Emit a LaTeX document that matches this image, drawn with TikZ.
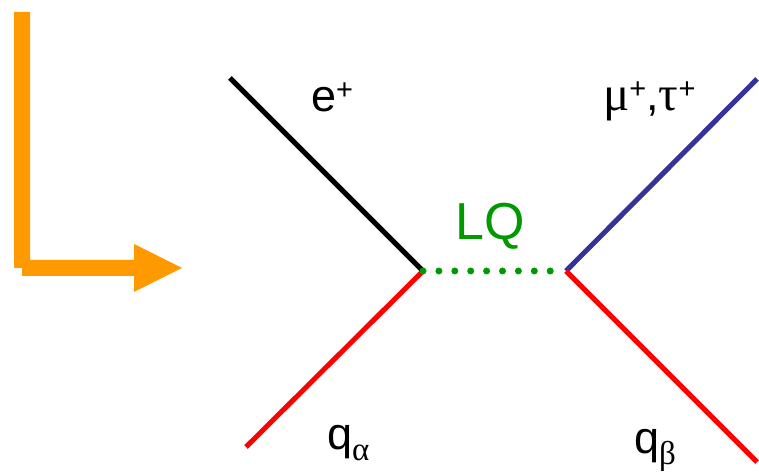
\documentclass[tikz,border=0pt]{standalone}
\usepackage{fontspec}
\setmainfont{Liberation Sans}
\newfontfamily\grk{Liberation Serif}
\definecolor{arroworange}{HTML}{FF9900}
\definecolor{lqgreen}{HTML}{009900}
\definecolor{mublue}{HTML}{333399}
\definecolor{qred}{HTML}{FF0000}
\newcommand\upsc[1]{\raisebox{12.5pt}{\fontsize{29}{30}\selectfont #1}}
\newcommand\dnsc[1]{\raisebox{-11pt}{\fontsize{33}{34}\selectfont #1}}
\newcommand\bgrk[1]{{\grk\fontsize{49}{54}\selectfont #1}}
\tikzset{
  leg/.style={line width=5pt},
  lbl/.style={anchor=base west, inner sep=0pt, font=\fontsize{45}{54}\selectfont},
  lqline/.style={lqgreen, line width=7pt, line cap=round, dash pattern=on 0pt off 15.9pt},
  bigarrow/.style={fill=arroworange, draw=none}
}
\begin{document}
\begin{tikzpicture}[x=1pt,y=1pt]
\useasboundingbox (0,0) rectangle (759,473);
% orange arrow
\fill[bigarrow] (14,461) -- (30,461) -- (30,213) -- (134,213) -- (134,229) -- (182,205) -- (134,181) -- (134,197) -- (22,197) -- (22,205) -- (14,205) -- cycle;
% vertices and ends
\coordinate (v1) at (423,202);
\coordinate (v2) at (566,202);
\coordinate (eplus) at (230,395);
\coordinate (mutau) at (757,394);
\coordinate (qa) at (246,26);
\coordinate (qb) at (757,11);
\draw[leg, black] (eplus) -- (v1);
\draw[leg, mublue] (mutau) -- (v2);
\draw[leg, qred] (qa) -- (v1);
\draw[leg, qred] (qb) -- (v2);
\draw[lqline] (v1) -- (v2);
% labels
\node[lbl] (le) at (311,361) {e\upsc{+}};
\node[lbl] (lm) at (603,362) {\bgrk{μ}\upsc{+},\bgrk{τ}\upsc{+}};
\node[lbl, lqgreen, font=\fontsize{52}{60}\selectfont] (llq) at (455,233) {LQ};
\node[lbl] (lqa) at (327,23) {q\dnsc{\grk α}};
\node[lbl] (lqb) at (634,19) {q\dnsc{\grk β}};
\end{tikzpicture}
\end{document}
